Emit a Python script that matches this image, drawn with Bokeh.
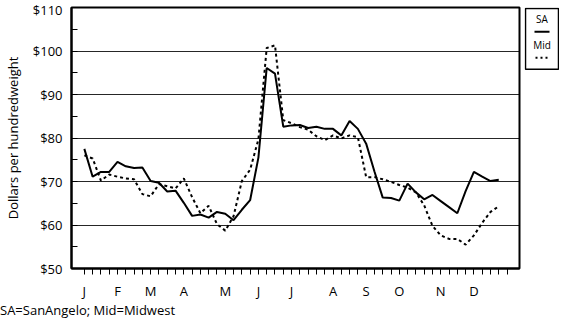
from bokeh.plotting import figure
from bokeh.models import Range1d, FixedTicker, Div
from bokeh.layouts import row, column
from bokeh.embed import file_html
from bokeh.resources import INLINE

# ---- data ----
weeks = list(range(1, 52))
sa = [77.5, 71.1, 72.2, 72.2, 74.5, 73.5, 73.1, 73.2, 70.1, 69.7,
      67.7, 67.9, 65.1, 62.1, 62.4, 61.7, 63.0, 62.6, 61.1, 63.5,
      65.7, 75.5, 96.1, 94.8, 82.6, 82.9, 83.0, 82.3, 82.6, 82.1,
      82.1, 80.6, 83.9, 82.1, 78.7, 72.3, 66.3, 66.2, 65.6, 69.5,
      67.5, 65.9, 66.9, 65.5, 64.1, 62.7, 67.8, 72.2, 71.1, 70.1, 70.4]
mid = [76.0, 75.3, 70.2, 71.6, 71.1, 70.7, 70.5, 67.1, 66.6, 69.4,
       68.9, 68.4, 70.7, 66.4, 62.7, 64.4, 60.2, 58.7, 62.0, 70.1,
       72.7, 79.7, 100.7, 101.3, 84.1, 83.4, 82.5, 81.9, 80.4, 79.5,
       80.6, 79.9, 80.6, 80.2, 71.0, 71.0, 70.5, 69.9, 69.2, 68.6,
       67.5, 64.5, 59.8, 57.6, 56.8, 56.8, 55.5, 57.6, 60.5, 63.0, 64.3]
tick_weeks = list(range(1, 53))
month_weeks = [1, 5, 9, 13, 18, 22, 26, 31, 35, 39, 44, 48]
month_labels = ["J", "F", "M", "A", "M", "J", "J", "A", "S", "O", "N", "D"]
y_major = [50, 60, 70, 80, 90, 100, 110]
y_minor = [55, 65, 75, 85, 95, 105]
grid_vals = [60, 70, 80, 90, 100]
footnote = "SA=SanAngelo; Mid=Midwest"
series_names = ["SA", "Mid"]

FONT = "Open Sans"
H_FOOT = 16
H = 318 - H_FOOT
W_MAIN, W_LEG = 524, 35
BT, BB = 7, 25

p = figure(width=W_MAIN, height=H, output_backend="svg", toolbar_location=None,
           x_range=Range1d(-0.55, 53.5), y_range=Range1d(50, 110),
           min_border_left=64, min_border_right=5, min_border_top=BT,
           min_border_bottom=BB)
p.outline_line_color = "black"
p.outline_line_width = 2
p.background_fill_color = "white"
p.border_fill_color = "white"

p.xgrid.visible = False
p.ygrid.ticker = FixedTicker(ticks=grid_vals)
p.ygrid.grid_line_color = "black"
p.ygrid.grid_line_width = 1
p.ygrid.grid_line_alpha = 0.85

ya = p.yaxis[0]
ya.ticker = FixedTicker(ticks=y_major, minor_ticks=y_minor)
ya.major_label_overrides = {v: f"${v}" for v in y_major}
ya.major_tick_in = 6
ya.major_tick_out = 0
ya.minor_tick_in = 6
ya.minor_tick_out = 0
ya.axis_line_width = 2
ya.major_label_standoff = 9
ya.major_label_text_font = FONT
ya.major_label_text_font_size = "13px"
ya.major_label_text_color = "black"
ya.axis_label = "Dollars per hundredweight"
ya.axis_label_text_font = FONT
ya.axis_label_text_font_size = "13px"
ya.axis_label_text_font_style = "normal"
ya.axis_label_text_color = "black"
ya.axis_label_standoff = 8

xa = p.xaxis[0]
xa.ticker = FixedTicker(ticks=tick_weeks)
labels = {w: "" for w in tick_weeks}
for w, m in zip(month_weeks, month_labels):
    labels[w] = m
xa.major_label_overrides = labels
xa.major_tick_in = 0
xa.major_tick_out = 6
xa.minor_tick_line_color = None
xa.axis_line_width = 2
xa.major_label_standoff = 7
xa.major_label_text_font = FONT
xa.major_label_text_font_size = "13px"
xa.major_label_text_color = "black"
xa.axis_label = None
xa.axis_label_standoff = 0

p.line(weeks, sa, line_color="black", line_width=2)
p.line(weeks, mid, line_color="black", line_width=2, line_dash="3 3")

# ---- legend box: a narrow companion figure (same vertical borders) ----
leg = figure(width=W_LEG, height=H, output_backend="svg", toolbar_location=None,
             x_range=Range1d(0, W_LEG), y_range=Range1d(H - BT - BB, 0),
             x_axis_type=None, y_axis_type=None,
             min_border_left=0, min_border_right=0, min_border_top=BT,
             min_border_bottom=BB)
leg.grid.visible = False
leg.outline_line_color = None
leg.background_fill_color = "white"
leg.border_fill_color = "white"
leg.quad(left=[1], right=[W_LEG - 1], top=[1], bottom=[64],
         fill_color=None, line_color="black", line_width=1.5)
leg.text(x=[W_LEG / 2, W_LEG / 2], y=[12, 39], text=series_names,
         text_font_size="10px", text_align="center", text_baseline="middle",
         text_font={"value": FONT}, text_color="black")
leg.line(x=[10, 25], y=[25, 25], line_color="black", line_width=2)
leg.line(x=[11, 24], y=[52, 52], line_color="black", line_width=2,
         line_dash="2 3")

foot = Div(text=footnote, width=W_MAIN + W_LEG, height=H_FOOT, margin=0,
           styles={"font-family": FONT, "font-size": "13px", "color": "black",
                   "line-height": f"{H_FOOT}px", "white-space": "nowrap"})

layout = column(row(p, leg), foot)
open("out.html", "w").write(file_html(layout, INLINE))
